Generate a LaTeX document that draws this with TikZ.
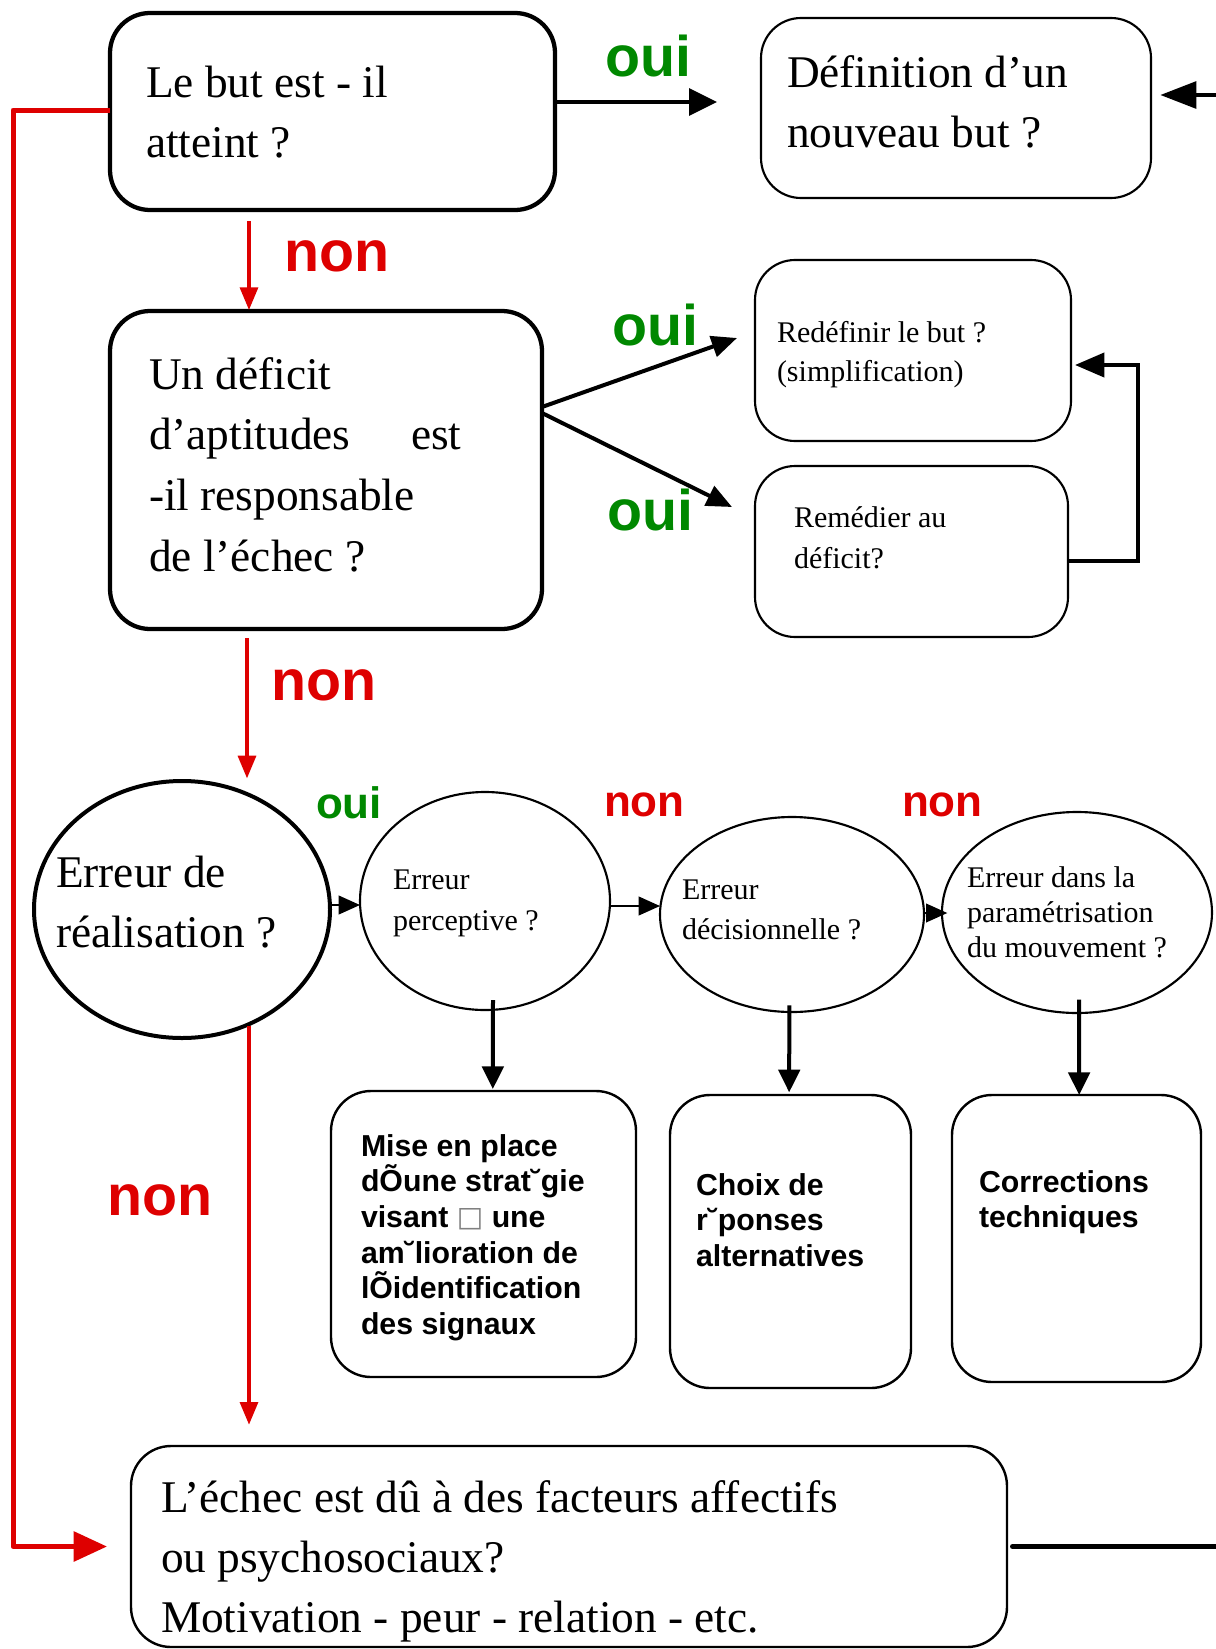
\documentclass[tikz,border=0pt]{standalone}
\usepackage{fontspec}
\setmainfont{Liberation Serif}
\setsansfont{Liberation Sans}
\newfontfamily\symbfont{DejaVu Sans}
\usetikzlibrary{shapes.geometric,arrows.meta}
\definecolor{myRed}{RGB}{222,0,0}
\definecolor{myGreen}{RGB}{0,136,0}

\begin{document}
\begin{tikzpicture}[x=0.75pt, y=-0.75pt,
	every node/.style={inner sep=0pt, outer sep=0pt},
	boite/.style={draw, rounded corners=30pt, line width=1.6pt},
	boiteforte/.style={boite, line width=3.2pt},
	bulle/.style={draw, ellipse, line width=1.6pt},
	texte/.style={anchor=base west, align=flush left, text width=640pt},
	grand/.style={font=\fontsize{34}{45.5}\selectfont},
	gras/.style={font=\sffamily\bfseries\fontsize{22.7}{26.8}\selectfont},
	oui/.style={anchor=base west, text=myGreen, font=\sffamily\bfseries\fontsize{43}{43}\selectfont},
	non/.style={anchor=base west, text=myRed, font=\sffamily\bfseries\fontsize{43}{43}\selectfont},
	petitoui/.style={oui, font=\sffamily\bfseries\fontsize{33}{33}\selectfont},
	petitnon/.style={non, font=\sffamily\bfseries\fontsize{33}{33}\selectfont},
	fleche/.style={line width=3pt, -{Triangle[length=21pt,width=20pt]}},
	finefleche/.style={line width=1.5pt, -{Triangle[length=16pt,width=14pt]}},
	rougefleche/.style={myRed, line width=2.4pt, -{Triangle[length=17pt,width=13.5pt]}},
	]
	\useasboundingbox (0,0) rectangle (1215,1649);
	
	% draw boxes
	\node[boiteforte, minimum width=333.75pt, minimum height=147.75pt] (but) at (332.5,111.5) {};
	\node[boite, minimum width=292.5pt, minimum height=135pt] (nouveau) at (956,108) {};
	\node[boiteforte, minimum width=324pt, minimum height=238.5pt] (deficit) at (326,470) {};
	\node[boite, minimum width=237pt, minimum height=135.75pt] (redef) at (913,350.5) {};
	\node[boite, minimum width=234.75pt, minimum height=128.25pt] (remedier) at (911.5,551.5) {};
	\node[boite, line width=1.8pt, minimum width=228.75pt, minimum height=214.5pt] (strategie) at (483.5,1234) {};
	\node[boite, line width=1.8pt, minimum width=180.75pt, minimum height=219.75pt] (choix) at (790.5,1241.5) {};
	\node[boite, line width=1.8pt, minimum width=186.75pt, minimum height=215.25pt] (corrections) at (1076.5,1238.5) {};
	\node[boite, line width=1.8pt, minimum width=657pt, minimum height=150.75pt] (affectif) at (569,1546.5) {};
	
	% draw ellipses
	\node[bulle, line width=3pt, minimum width=222pt, minimum height=192.75pt] (realisation) at (182,909.5) {};
	\node[bulle, minimum width=187.5pt, minimum height=163.5pt] (perceptive) at (485,901) {};
	\node[bulle, minimum width=198pt, minimum height=146.25pt] (decision) at (792,914.5) {};
	\node[bulle, minimum width=202.5pt, minimum height=150.75pt] (parametr) at (1077,912.5) {};
	
	% place texts
	\node[texte, grand] (but-t) at (146,97) {Le but est - il\\atteint ?};
	\node[texte, grand] (nouveau-t) at (787,87) {Définition d’un\\nouveau but ?};
	\node[texte, grand] (deficit-t) at (149,389) {Un déficit\\d’aptitudes\hspace{37pt} est\\-il responsable\\de l’échec ?};
	\node[texte, font=\fontsize{22.5}{29.25}\selectfont] (redef-t) at (777,342) {Redéfinir le but ?\\(simplification)};
	\node[texte, font=\fontsize{22.5}{30.75}\selectfont] (remedier-t) at (794,527) {Remédier au\\déficit?};
	\node[texte, font=\fontsize{34}{45}\selectfont] (realisation-t) at (56,887) {Erreur de\\réalisation ?};
	\node[texte, font=\fontsize{22.5}{30.75}\selectfont] (perceptive-t) at (393,889) {Erreur\\perceptive ?};
	\node[texte, font=\fontsize{22.5}{30}\selectfont] (decision-t) at (682,899) {Erreur\\décisionnelle ?};
	\node[texte, font=\fontsize{22.5}{26.25}\selectfont] (parametr-t) at (967,887) {Erreur dans la\\paramétrisation\\du mouvement ?};
	\node[texte, gras] (strategie-t) at (361,1156) {Mise en place\\dÕune strat˘gie\\visant \raisebox{1pt}{\symbfont\mdseries\fontsize{21}{21}\selectfont\color{gray}□} une\\am˘lioration de\\lÕidentification\\des signaux};
	\node[texte, gras] (choix-t) at (696,1195) {Choix de\\r˘ponses\\alternatives};
	\node[texte, gras] (corrections-t) at (979,1192) {Corrections\\techniques};
	\node[texte, font=\fontsize{34}{45}\selectfont] (affectif-t) at (161,1512) {L’échec est dû à des facteurs affectifs\\ou psychosociaux?\\Motivation - peur - relation - etc.};
	
	% place oui / non labels
	\node[oui] (oui-a) at (605,76) {oui};
	\node[non] (non-a) at (284,271) {non};
	\node[oui] (oui-b) at (612,345) {oui};
	\node[oui] (oui-c) at (607,530) {oui};
	\node[non] (non-b) at (271,700) {non};
	\node[petitoui] (oui-d) at (316,818) {oui};
	\node[petitnon] (non-c) at (604,816) {non};
	\node[petitnon] (non-d) at (902,816) {non};
	\node[non] (non-e) at (107,1215) {non};
	
	% draw black arrows
	\coordinate (c-oui) at (717,102);
	\draw[fleche] (but.east |- c-oui) -- (c-oui);
	\coordinate (c-droite) at (1230,95);
	\draw[line width=3pt, -{Triangle[length=27pt,width=20pt]}] (c-droite) -- ([xshift=7pt]nouveau.east |- c-droite);
	\coordinate (c-redef) at (737,338);
	\coordinate (c-remedier) at (732,507);
	\draw[line width=3pt, -{Triangle[length=19pt,width=16pt]}] (deficit.east |- 0,407) -- (c-redef);
	\draw[line width=3pt, -{Triangle[length=19pt,width=16pt]}] (deficit.east |- 0,413) -- (c-remedier);
	\coordinate (c-retour) at (1138,365);
	\draw[line width=3pt, -{Triangle[length=22pt,width=18pt]}] (remedier.east |- 0,561) -| (c-retour) -- ([xshift=3pt]redef.east |- c-retour);
	
	% draw arrows between ellipses
	\draw[finefleche] (realisation.east |- 0,905) -- (perceptive.west |- 0,905);
	\draw[finefleche] (perceptive.east |- 0,906) -- (decision.west |- 0,906);
	\draw[finefleche] (decision.east |- 0,913) -- ([xshift=4pt]parametr.west |- 0,913);
	
	% draw arrows down to boxes
	\draw[fleche, -{Triangle[length=17pt,width=16pt]}] ([xshift=6pt,yshift=7.5pt]perceptive.south) -- ([xshift=7pt,yshift=1.5pt]strategie.north);
	\draw[fleche, -{Triangle[length=17pt,width=16pt]}] ([xshift=-2pt,yshift=5pt]decision.south) -- ([xshift=-1pt,yshift=2pt]choix.north);
	\draw[fleche, -{Triangle[length=17pt,width=16pt]}] ([xshift=1.5pt,yshift=10pt]parametr.south) -- ([xshift=2pt]corrections.north);
	
	% draw red arrows
	\coordinate (c-non1) at (249,221);
	\draw[rougefleche] (c-non1) -- ([yshift=0.75pt]c-non1 |- deficit.north);
	\coordinate (c-non2) at (247,638);
	\draw[rougefleche] (c-non2) -- ([yshift=2pt]c-non2 |- realisation.north);
	\coordinate (c-non3) at (249,1026);
	\draw[rougefleche] (c-non3) -- ([yshift=16pt]c-non3 |- affectif.north);
	\coordinate (c-gauche) at (13,110);
	\draw[myRed, line width=3.75pt, line join=round, -{Triangle[length=25pt,width=22pt]}] (but.west |- c-gauche) -- (c-gauche) |- ([xshift=-18pt]affectif.west);
	
	% draw line leaving the last box
	\draw[line width=3.5pt, line cap=round] ([xshift=4pt]affectif.east) -- ++(170pt,0pt);
\end{tikzpicture}
\end{document}
